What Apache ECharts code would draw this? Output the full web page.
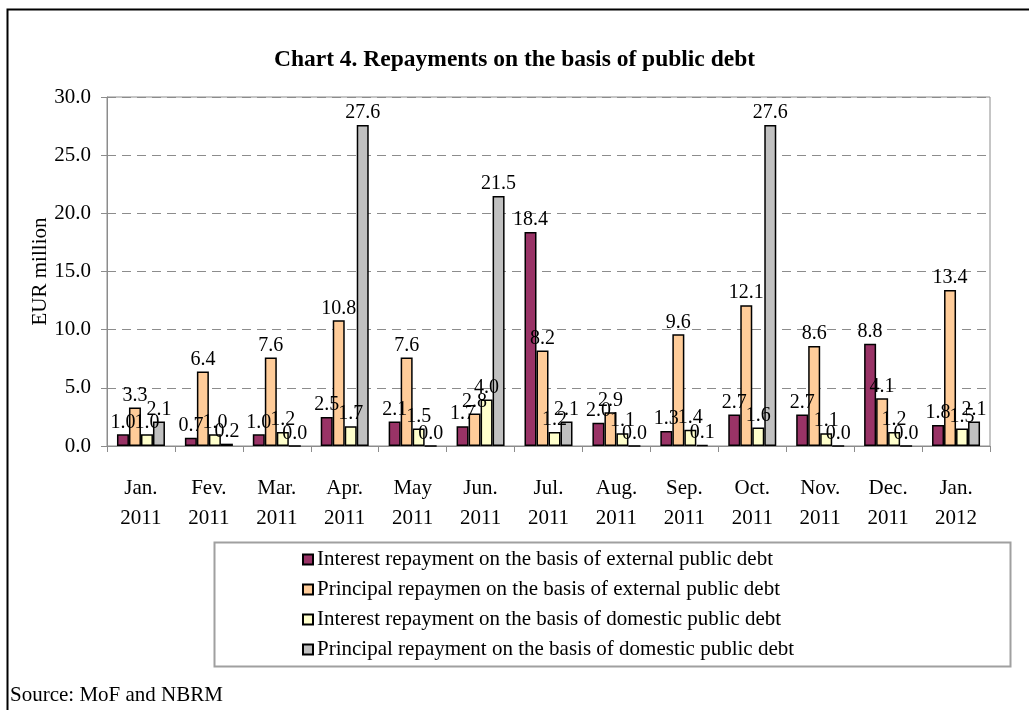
<!DOCTYPE html>
<html>
<head>
<meta charset="utf-8">
<script src="https://cdn.jsdelivr.net/npm/echarts@6/dist/echarts.min.js"></script>
<style>
html,body{margin:0;padding:0;background:#fff;}
#c{width:1029px;height:710px;}
</style>
</head>
<body>
<div id="c"></div>
<script>
const categories = ['Jan.\n2011','Fev.\n2011','Mar.\n2011','Apr.\n2011','May\n2011','Jun.\n2011','Jul.\n2011','Aug.\n2011','Sep.\n2011','Oct.\n2011','Nov.\n2011','Dec.\n2011','Jan.\n2012'];
const seriesNames = [
  'Interest repayment on the basis of external public debt',
  'Principal repaymen on the basis of external public debt',
  'Interest repayment on the basis of domestic public debt',
  'Principal repayment on the basis of domestic public debt'
];
const interestExternal  = [1.0, 0.7, 1.0, 2.5, 2.1, 1.7, 18.4, 2.0, 1.3, 2.7, 2.7, 8.8, 1.8];
const principalExternal = [3.3, 6.4, 7.6, 10.8, 7.6, 2.8, 8.2, 2.9, 9.6, 12.1, 8.6, 4.1, 13.4];
const interestDomestic  = [1.0, 1.0, 1.2, 1.7, 1.5, 4.0, 1.2, 1.1, 1.4, 1.6, 1.1, 1.2, 1.5];
const principalDomestic = [2.1, 0.2, 0.0, 27.6, 0.0, 21.5, 2.1, 0.0, 0.1, 27.6, 0.0, 0.0, 2.1];
const colors = ['#993366', '#FFCC99', '#FFFFCC', '#C0C0C0'];

const FONT = 'Liberation Serif';
const chart = echarts.init(document.getElementById('c'), null, {renderer: 'canvas'});
const allData = [interestExternal, principalExternal, interestDomestic, principalDomestic];

chart.setOption({
  animation: false,
  backgroundColor: '#fff',
  textStyle: {fontFamily: FONT, color: '#000'},
  title: {
    text: 'Chart 4. Repayments on the basis of public debt',
    left: 'center', top: 43,
    textStyle: {fontFamily: FONT, fontWeight: 'bold', fontSize: 23.5, color: '#000'}
  },
  grid: {left: 107, right: 39, top: 97, bottom: 264, show: true, borderColor: '#8c8c8c', borderWidth: 1, backgroundColor: 'transparent'},
  legend: {
    orient: 'vertical', left: 297, top: 544,
    itemWidth: 10, itemHeight: 10, itemGap: 9,
    icon: 'rect',
    data: seriesNames,
    textStyle: {fontFamily: FONT, fontSize: 21, color: '#000', padding: [0,0,0,-1]}
  },
  xAxis: {
    type: 'category', data: categories,
    axisLine: {lineStyle: {color: '#8c8c8c'}},
    axisTick: {show: true, length: 6, lineStyle: {color: '#8c8c8c'}},
    axisLabel: {fontFamily: FONT, fontSize: 21, color: '#000', lineHeight: 30, margin: 27, interval: 0}
  },
  yAxis: {
    type: 'value', min: 0, max: 30, interval: 5,
    name: 'EUR million', nameLocation: 'middle', nameGap: 56, nameRotate: 90, nameMoveOverlap: false,
    nameTextStyle: {fontFamily: FONT, fontSize: 21, color: '#000'},
    axisLine: {show: true, lineStyle: {color: '#8c8c8c'}},
    axisTick: {show: true, length: 6, lineStyle: {color: '#8c8c8c'}},
    axisLabel: {fontFamily: FONT, fontSize: 21, color: '#000', margin: 16, formatter: v => v.toFixed(1)},
    splitLine: {show: true, lineStyle: {color: '#8c8c8c', type: [9, 6], width: 1}}
  },
  series: seriesNames.map((n, i) => ({
    name: n, type: 'bar', data: allData[i],
    barWidth: 12, barGap: '0%',
    itemStyle: {color: colors[i], borderColor: '#000', borderWidth: 1.5},
    label: {show: true, position: 'top', distance: 2, fontFamily: FONT, fontSize: 20, color: '#000',
      formatter: p => p.value.toFixed(1)}
  })),
  graphic: [
    {type: 'rect', shape: {x: 7.5, y: 9.5, width: 1100, height: 800}, style: {fill: 'none', stroke: '#000', lineWidth: 2}, silent: true, z: -1},
    {type: 'rect', shape: {x: 214.5, y: 542.5, width: 796, height: 124}, style: {fill: 'none', stroke: '#a0a0a0', lineWidth: 2}, silent: true},
    {type: 'text', left: 10, top: 685, style: {text: 'Source: MoF and NBRM', fontFamily: FONT, fontSize: 21, fill: '#000'}}
  ]
});
</script>
</body>
</html>
